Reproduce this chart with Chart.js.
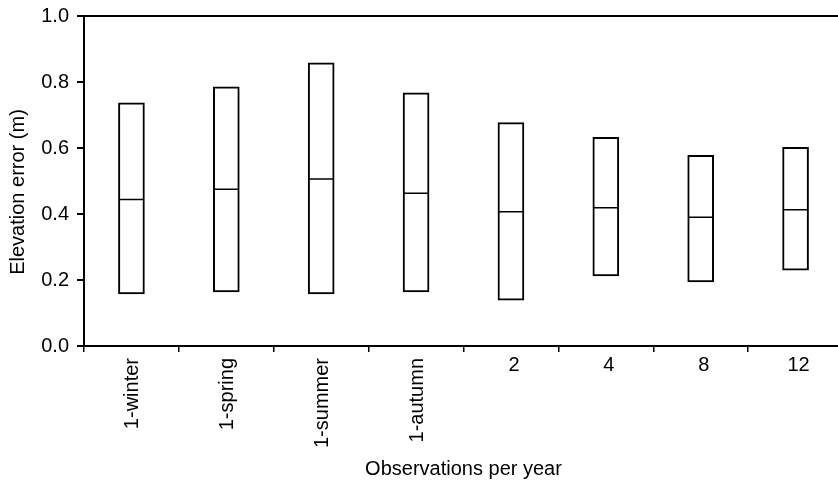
<!DOCTYPE html>
<html>
<head>
<meta charset="utf-8">
<script src="https://cdn.jsdelivr.net/npm/chart.js@4/dist/chart.umd.min.js"></script>
<style>
  html, body { margin: 0; padding: 0; background: #fff; overflow: hidden; }
  #wrap { width: 846px; height: 481px; }
</style>
</head>
<body>
<div id="wrap"><canvas id="graphic" width="846" height="481"></canvas></div>
<script>
// categories and values
var categories = ['1-winter', '1-spring', '1-summer', '1-autumn', '2', '4', '8', '12'];
var lows    = [0.158, 0.164, 0.158, 0.164, 0.139, 0.212, 0.194, 0.230];
var highs   = [0.737, 0.785, 0.858, 0.767, 0.677, 0.632, 0.578, 0.602];
var medians = [0.444, 0.475, 0.506, 0.463, 0.407, 0.419, 0.390, 0.413];
var yTicks  = [0, 0.2, 0.4, 0.6, 0.8, 1.0];
var rotated = [true, true, true, true, false, false, false, false];

var FONT = 'Liberation Sans, Arial, Helvetica, sans-serif';

// draws x labels (some turned, some flat) and the y title
var labelsPlugin = {
  id: 'labels',
  afterDraw: function (chart) {
    var ctx = chart.ctx;
    var x = chart.scales.x;
    var area = chart.chartArea;
    ctx.save();
    ctx.fillStyle = '#000';
    ctx.font = '20px ' + FONT;
    categories.forEach(function (c, i) {
      var px = x.getPixelForValue(i);
      if (rotated[i]) {
        ctx.save();
        ctx.translate(px + 1, area.bottom + 12);
        ctx.rotate(-Math.PI / 2);
        ctx.textAlign = 'right';
        ctx.textBaseline = 'middle';
        ctx.fillText(c, 0, 0);
        ctx.restore();
      } else {
        ctx.textAlign = 'center';
        ctx.textBaseline = 'middle';
        ctx.fillText(c, px + 3, area.bottom + 19);
      }
    });
    // y axis title
    ctx.font = '20px ' + FONT;
    ctx.translate(18, 192);
    ctx.rotate(-Math.PI / 2);
    ctx.textAlign = 'center';
    ctx.textBaseline = 'middle';
    ctx.fillText('Elevation error (m)', 0, 0);
    ctx.restore();
  }
};

var ctx = document.getElementById('graphic').getContext('2d');

var datos = {
  labels: categories,
  datasets: [{
    type: 'line',
    label: 'Median',
    data: medians,
    showLine: false,
    pointStyle: 'line',
    pointRadius: 12,
    pointHoverRadius: 12,
    pointBorderColor: '#000',
    pointBorderWidth: 1.5,
    order: 0
  }, {
    type: 'bar',
    label: 'Range',
    data: lows.map(function (l, i) { return [l, highs[i]]; }),
    backgroundColor: '#fff',
    borderColor: '#000',
    borderWidth: 2,
    borderSkipped: false,
    barThickness: 26,
    order: 1
  }]
};

var opciones = {
  responsive: false,
  animation: false,
  layout: { autoPadding: false, padding: { top: 16, right: 3, left: 0, bottom: 0 } },
  plugins: {
    legend: { display: false },
    tooltip: { enabled: false }
  },
  scales: {
    x: {
      type: 'category',
      position: 'bottom',
      offset: true,
      grid: { display: true, offset: true, drawOnChartArea: false, color: '#000', lineWidth: 1.5, tickLength: 6 },
      border: { display: true, color: '#000', width: 2 },
      ticks: { display: false },
      title: { display: true, text: 'Observations per year', color: '#000', font: { family: FONT, size: 20 }, padding: { top: 0, bottom: 0 } },
      afterFit: function (s) { s.height = 135; }
    },
    xTop: {
      type: 'category',
      position: 'top',
      grid: { display: false },
      border: { display: true, color: '#000', width: 2 },
      ticks: { display: false },
      afterFit: function (s) { s.height = 0; }
    },
    y: {
      min: 0,
      max: 1,
      afterBuildTicks: function (s) { s.ticks = yTicks.map(function (v) { return { value: v }; }); },
      ticks: {
        color: '#000',
        font: { family: FONT, size: 20 },
        padding: 8,
        callback: function (v) { return Number(v).toFixed(1); }
      },
      grid: { display: true, drawOnChartArea: false, color: '#000', lineWidth: 2, tickLength: 7 },
      border: { display: true, color: '#000', width: 2 },
      afterFit: function (s) { s.width = 84; s.paddingTop = 0; s.paddingBottom = 0; }
    }
  }
};

var miGrafico = new Chart(ctx, {
  type: 'bar',
  data: datos,
  options: opciones,
  plugins: [labelsPlugin]
});
</script>
</body>
</html>
